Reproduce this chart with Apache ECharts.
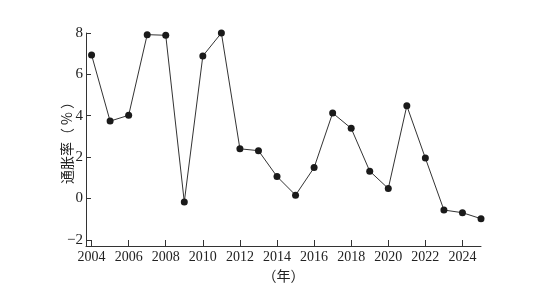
<!DOCTYPE html>
<html>
<head>
<meta charset="utf-8">
<script src="https://cdn.jsdelivr.net/npm/echarts@6/dist/echarts.min.js"></script>
<style>
  html, body { margin: 0; padding: 0; background: #fff; }
  #chart { width: 557px; height: 289px; }
</style>
</head>
<body>
<div id="chart"></div>
<script>
// 年份与通胀率
var years = [2004, 2005, 2006, 2007, 2008, 2009, 2010, 2011, 2012, 2013, 2014,
  2015, 2016, 2017, 2018, 2019, 2020, 2021, 2022, 2023, 2024, 2025];
var rates = [6.94, 3.74, 4.02, 7.92, 7.89, -0.17, 6.89, 8.0, 2.40, 2.31, 1.06,
  0.16, 1.49, 4.13, 3.39, 1.32, 0.48, 4.48, 1.95, -0.56, -0.69, -0.98];
var xTicks = [2004, 2006, 2008, 2010, 2012, 2014, 2016, 2018, 2020, 2022, 2024];
var yTicks = [-2, 0, 2, 4, 6, 8];

(function () {
  var myChart = echarts.init(document.getElementById("chart"));
  var serif = "Liberation Serif";
  var option = {
    animation: false,
    grid: { left: 86, right: 76, top: 33, bottom: 43 },
    xAxis: {
      type: "value",
      min: 2003.7,
      max: 2025,
      name: "（年）",
      nameLocation: "middle",
      nameGap: 23,
      nameMoveOverlap: false,
      nameTextStyle: { fontFamily: "Noto Sans CJK SC", fontSize: 14, color: "#222" },
      axisLine: { show: true, onZero: false, lineStyle: { color: "#333", width: 1 } },
      axisTick: { show: true, inside: true, length: 6, customValues: xTicks, lineStyle: { color: "#333" } },
      axisLabel: {
        customValues: xTicks,
        fontFamily: serif,
        fontSize: 14,
        color: "#222",
        margin: 4,
        formatter: function (v) { return String(v); }
      },
      splitLine: { show: false }
    },
    yAxis: {
      type: "value",
      min: -2.3,
      max: 8,
      name: "通胀率（ % ）",
      nameLocation: "middle",
      nameGap: 12,
      nameMoveOverlap: false,
      nameTextStyle: { fontFamily: "Noto Sans CJK SC", fontSize: 14, color: "#222" },
      axisLine: { show: true, onZero: false, lineStyle: { color: "#333", width: 1 } },
      axisTick: { show: true, inside: true, length: 5, customValues: yTicks, lineStyle: { color: "#333" } },
      axisLabel: {
        customValues: yTicks,
        fontFamily: serif,
        fontSize: 15,
        color: "#222",
        margin: 3,
        formatter: function (v) { return v < 0 ? "\u2212" + Math.abs(v) : String(v); }
      },
      splitLine: { show: false }
    },
    series: [
      {
        type: "line",
        data: years.map(function (y, i) { return [y, rates[i]]; }),
        symbol: "circle",
        symbolSize: 7,
        itemStyle: { color: "#1a1a1a" },
        lineStyle: { color: "#333", width: 1 }
      }
    ]
  };
  myChart.setOption(option);
})();
</script>
</body>
</html>
